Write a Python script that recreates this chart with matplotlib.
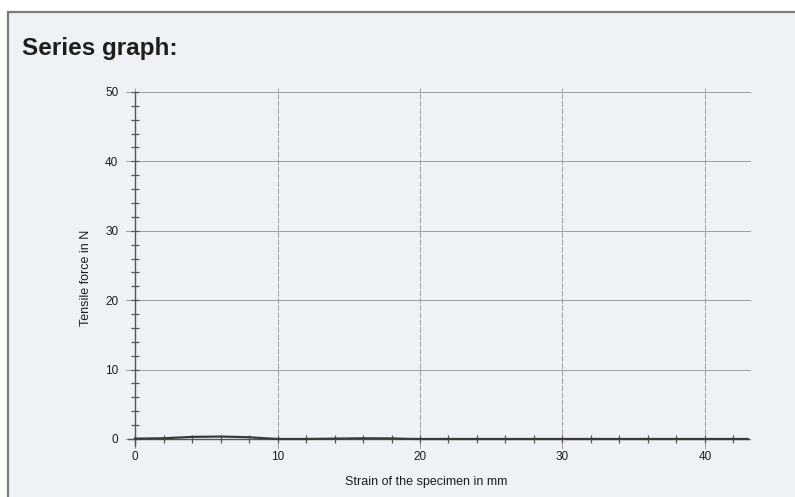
import matplotlib
matplotlib.use("Agg")
import matplotlib.pyplot as plt
from matplotlib.patches import Rectangle
from matplotlib.ticker import MultipleLocator

# Measured tensile curve
strain_mm = [0, 2, 3, 4, 6, 8, 9, 10, 12, 14, 16, 18, 19, 20, 25, 30, 35, 40, 43]
force_n = [0.05, 0.1, 0.2, 0.3, 0.35, 0.25, 0.12, 0.0, 0.0, 0.05, 0.1, 0.08, 0.02, 0.0, 0.0, 0.0, 0.0, 0.0, 0.0]

x_major = [0, 10, 20, 30, 40]
y_major = [0, 10, 20, 30, 40, 50]

title = "Series graph:"
x_label = "Strain of the specimen in mm"
y_label = "Tensile force in N"

paper = "#eef2f6"
ink = "#1c1c1c"

fig = plt.figure(figsize=(7.95, 4.97), dpi=100)
fig.patch.set_facecolor("white")

# Scanned sheet with its gray frame (open to the right and bottom edges)
sheet = Rectangle((8 / 795, -0.05), 1.2, 1.05 - 12 / 497, transform=fig.transFigure,
                  facecolor=paper, edgecolor="#7a7a7a", linewidth=1.6, zorder=-10)
fig.patches.append(sheet)

fig.text(22 / 795, 1 - 49 / 497, title, fontsize=17.5, fontweight="bold",
         family="Liberation Sans", color="#1e1e1e", va="center", ha="left")

ax = fig.add_axes([0.1591, 0.0958, 0.785, 0.7262])
ax.set_facecolor("none")
ax.set_xlim(-0.6, 43.2)
ax.set_ylim(-1.5, 50.5)

for side in ("top", "right"):
    ax.spines[side].set_visible(False)
ax.spines["left"].set_position(("data", 0))
ax.spines["bottom"].set_position(("data", 0))
ax.spines["left"].set_bounds(-1.0, 50)
ax.spines["bottom"].set_bounds(-0.5, 43.1)
for side in ("left", "bottom"):
    ax.spines[side].set_color("#555555")
    ax.spines[side].set_linewidth(1.0)

ax.set_xticks(x_major)
ax.set_yticks(y_major)
ax.xaxis.set_minor_locator(MultipleLocator(2))
ax.yaxis.set_minor_locator(MultipleLocator(2))
ax.tick_params(which="both", direction="inout", length=6, width=0.9, color="#555555")
ax.tick_params(axis="both", which="major", labelsize=8.5, labelcolor=ink, pad=6)
ax.tick_params(axis="y", which="major", pad=9)
for lbl in ax.get_xticklabels() + ax.get_yticklabels():
    lbl.set_family("Liberation Sans")

ax.grid(True, which="major", color="#8a8a8a", linewidth=0.7, alpha=0.8)
for gl in ax.get_xgridlines():
    gl.set_linestyle((0, (6, 1.5)))

ax.plot(strain_mm, force_n, color="#3a3a3a", linewidth=1.6, zorder=3)

ax.set_xlabel(x_label, fontsize=9, family="Liberation Sans", color=ink)
ax.xaxis.set_label_coords((426 - 126.5) / 624.1, -0.075)
ax.set_ylabel(y_label, fontsize=9, family="Liberation Sans", color=ink)
ax.yaxis.set_label_coords((92 - 126.5) / 624.1, 0.475)

fig.savefig("out.png", dpi=100, facecolor=fig.get_facecolor())
